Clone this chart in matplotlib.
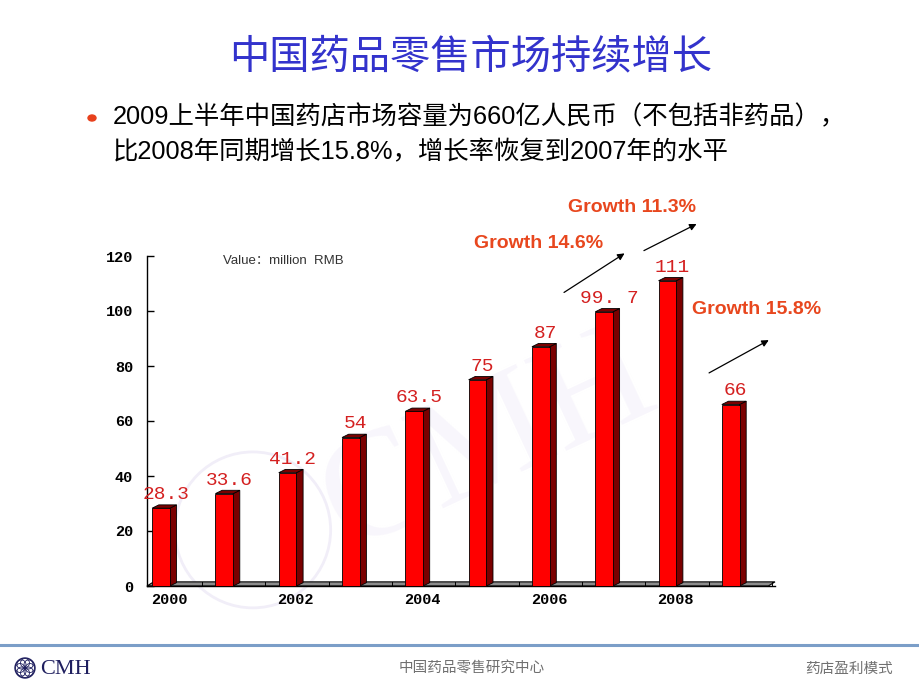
import numpy as np
import matplotlib
matplotlib.use('Agg')
import matplotlib.pyplot as plt
from matplotlib.patches import Polygon, Rectangle, Circle, Ellipse

plt.rcParams['font.family'] = ['Noto Sans CJK SC', 'DejaVu Sans']

# data
years = [2000, 2001, 2002, 2003, 2004, 2005, 2006, 2007, 2008, 2009]
values = [28.3, 33.6, 41.2, 54, 63.5, 75, 87, 99.7, 111, 66]
value_labels = ['28.3', '33.6', '41.2', '54', '63.5', '75', '87', '99. 7', '111', '66']
tick_years = [2000, 2002, 2004, 2006, 2008]
growth_texts = ['Growth 14.6%', 'Growth 11.3%', 'Growth 15.8%']

title = '中国药品零售市场持续增长'
bullet_lines = ['2009上半年中国药店市场容量为660亿人民币（不包括非药品），',
                '比2008年同期增长15.8%，增长率恢复到2007年的水平']
footer_mid = '中国药品零售研究中心'
footer_right = '药店盈利模式'

fig = plt.figure(figsize=(9.2, 6.9), dpi=100)
W, H = 920, 690

def fx(px):
    return px / W

def fy(py):
    return 1 - py / H

# header
fig.text(fx(471), fy(57), title, color='#3333CC', fontsize=29, fontweight='medium',
         ha='center', va='center')
fig.patches.append(Circle((fx(92), fy(118)), 4 / W, transform=fig.transFigure,
                          color='#E8401C', figure=fig))
fig.text(fx(113), fy(117), bullet_lines[0], fontsize=18.3, ha='left', va='center',
         color='black', family=['Liberation Sans', 'Noto Sans CJK SC'])
fig.text(fx(113), fy(152), bullet_lines[1], fontsize=18.3, ha='left', va='center',
         color='black', family=['Liberation Sans', 'Noto Sans CJK SC'])

# footer
fig.add_artist(plt.Line2D([0, 1], [fy(645), fy(645)], color='#7B9EC8', lw=2.2,
                          transform=fig.transFigure))
fig.text(fx(472), fy(669), footer_mid, fontsize=10.5, color='#707070',
         ha='center', va='center')
fig.text(fx(893), fy(669), footer_right, fontsize=10.5, color='#707070',
         ha='right', va='center')
logo = fig.add_axes([fx(14), fy(679), 22 / W, 22 / H])
logo.set_xlim(-1.1, 1.1)
logo.set_ylim(-1.1, 1.1)
logo.set_aspect('equal')
logo.axis('off')
logo.add_patch(Circle((0, 0), 1, fill=False, ec='#1F1F5F', lw=1))
for a in np.arange(0, 360, 45):
    t = np.deg2rad(a)
    logo.add_patch(Circle((0.5 * np.cos(t), 0.5 * np.sin(t)), 0.45, fill=False,
                          ec='#1F1F5F', lw=0.6))
fig.text(fx(40), fy(669), 'CMH', fontsize=16, color='#1F1F5F', ha='left',
         va='center', family='Liberation Serif')

# chart
ax = fig.add_axes([fx(147), fy(586), (775 - 147) / W, (586 - 256) / H])
x0, x1 = -0.221, 9.70
ax.set_xlim(x0, x1)
ax.set_ylim(0, 120)

# faint watermark
ax.add_patch(Ellipse((1.45, 20.4), 2.46, 56.7, fill=False, ec='#F1EEF8', lw=2,
                     zorder=0, clip_on=False))
ax.text(5.2, 52, 'CMH', fontsize=110, color='#F8F6FC', ha='center', va='center',
        family='Liberation Serif', rotation=25, zorder=0)

w, dx, dy = 0.28, 0.105, 1.2
front_c, dark_c = '#FF0000', '#7A0000'

# floor
ax.add_patch(Polygon([(x0, 0), (x1 - dx, 0), (x1, dy + 0.3), (x0 + dx, dy + 0.3)],
                     closed=True, fc='#8C8C8C', ec='black', lw=0.8, zorder=1,
                     clip_on=False))
for i in range(len(years)):
    ax.plot([i + 0.65, i + 0.65], [0, dy + 0.3], color='black', lw=0.7, zorder=1)

for i, v in enumerate(values):
    l, r = i - w / 2, i + w / 2
    ax.add_patch(Polygon([(r, 0), (r + dx, dy), (r + dx, v + dy), (r, v)],
                         closed=True, fc=dark_c, ec='black', lw=0.6, zorder=3,
                         clip_on=False))
    ax.add_patch(Polygon([(l, v), (l + dx, v + dy), (r + dx, v + dy), (r, v)],
                         closed=True, fc=dark_c, ec='black', lw=0.6, zorder=3,
                         clip_on=False))
    ax.add_patch(Rectangle((l, 0), w, v, fc=front_c, ec='black', lw=0.6, zorder=4,
                           clip_on=False))
    ax.text(i + 0.08, v + 3.3, value_labels[i], color='#D42020', fontsize=14,
            ha='center', va='baseline', family='Liberation Mono', zorder=5)

for s in ['top', 'right']:
    ax.spines[s].set_visible(False)
ax.spines['left'].set_linewidth(1)
ax.spines['bottom'].set_linewidth(1)
ax.patch.set_alpha(0)

ax.set_yticks(range(0, 121, 20))
ax.set_yticklabels([str(t) for t in range(0, 121, 20)], family='Liberation Mono',
                   fontweight='bold', fontsize=11)
ax.tick_params(axis='y', direction='in', length=5, pad=10, width=1)

ax.set_xticks([years.index(y) + 0.13 for y in tick_years])
ax.set_xticklabels([str(y) for y in tick_years], family='Liberation Mono',
                   fontweight='bold', fontsize=11)
ax.tick_params(axis='x', length=0, pad=5)

ax.text(1.94, 118.2, 'Value：million  RMB', fontsize=9.5, color='#333333',
        ha='center', va='center', family=['Liberation Sans', 'Noto Sans CJK SC'])

# growth annotations (data coords)
gcol = '#E8471E'
text_pos = [(5.96, 124.4), (7.44, 137.5), (9.41, 100.4)]
arrow_pos = [((6.33, 106.2), (7.36, 121.5)),
             ((7.59, 121.5), (8.50, 132.1)),
             ((8.62, 77.0), (9.64, 89.9))]
for txt, (tx, ty), (st, en) in zip(growth_texts, text_pos, arrow_pos):
    ax.text(tx, ty, txt, color=gcol, fontsize=14, fontweight='bold', ha='center',
            va='center', family='Liberation Sans', clip_on=False)
    ax.annotate('', xy=en, xytext=st, annotation_clip=False,
                arrowprops=dict(arrowstyle='-|>', color='black', lw=0.9,
                                mutation_scale=10))

fig.savefig('out.png', dpi=100)
